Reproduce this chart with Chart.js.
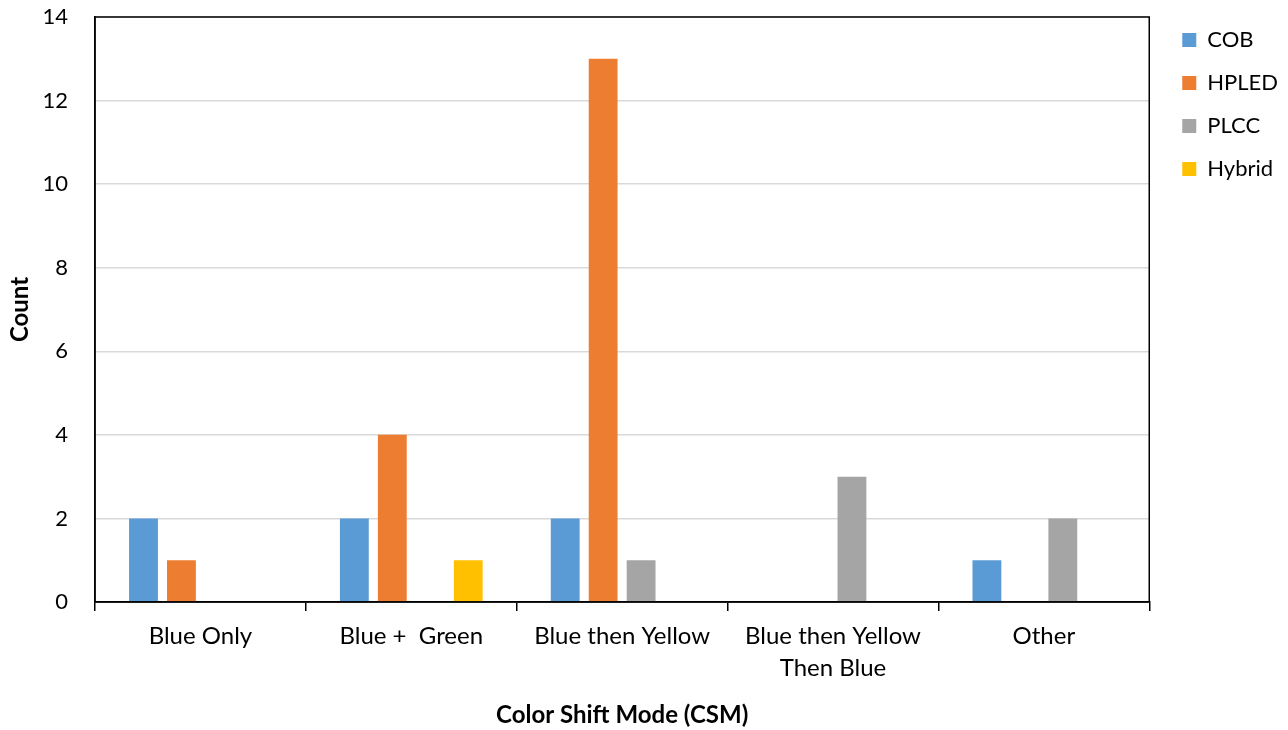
<!DOCTYPE html>
<html>
<head>
<meta charset="utf-8">
<script src="https://cdn.jsdelivr.net/npm/chart.js@4/dist/chart.umd.min.js"></script>
<style>
  body { margin: 0; background: #fff; }
  #wrap { width: 1288px; height: 730px; }
</style>
</head>
<body>
<div id="wrap"><canvas id="csmChart"></canvas></div>
<script>
const modes = ["Blue Only", "Blue +  Green", "Blue then Yellow", ["Blue then Yellow", "Then Blue"], "Other"];
const cob = [2, 2, 2, 0, 1];
const hpled = [1, 4, 13, 0, 0];
const plcc = [0, 0, 1, 3, 2];
const hybrid = [0, 1, 0, 0, 0];
const yTicks = [0, 2, 4, 6, 8, 10, 12, 14];

const font = "Lato, 'Open Sans', sans-serif";
Chart.defaults.font.family = font;
Chart.defaults.color = '#000';

// box round the plot area, like the Excel chart
const frame = {
    id: 'frame',
    afterDraw(chart) {
        const a = chart.chartArea;
        const c = chart.ctx;
        c.save();
        c.strokeStyle = '#000';
        c.lineWidth = 1.5;
        c.strokeRect(a.left, a.top, a.right - a.left, a.bottom - a.top);
        c.restore();
    }
};

const bar = (label, data, color) => ({
    label, data, backgroundColor: color, borderWidth: 0,
    categoryPercentage: 0.72, barPercentage: 0.76
});

new Chart(document.getElementById('csmChart').getContext('2d'), {
    type: 'bar',
    data: {
        labels: modes,
        datasets: [
            bar('COB', cob, '#5b9bd5'),
            bar('HPLED', hpled, '#ed7d31'),
            bar('PLCC', plcc, '#a5a5a5'),
            bar('Hybrid', hybrid, '#ffc000')
        ]
    },
    options: {
        responsive: true,
        maintainAspectRatio: false,
        animation: false,
        layout: { padding: { top: 8, right: 0, bottom: 0, left: 0 } },
        plugins: {
            legend: {
                position: 'right',
                align: 'start',
                labels: { boxWidth: 14, boxHeight: 14, padding: 21, font: { size: 22 } }
            },
            tooltip: { enabled: false }
        },
        scales: {
            x: {
                grid: { display: true, drawOnChartArea: false, drawTicks: true, tickLength: 9, color: '#000', lineWidth: 1.5 },
                border: { color: '#000', width: 1.5 },
                ticks: { font: { size: 24, lineHeight: 1.33 }, padding: 9, maxRotation: 0, autoSkip: false },
                title: { display: true, text: 'Color Shift Mode (CSM)', font: { size: 24, weight: 'bold' }, padding: { top: 0, bottom: 0 } },
                afterFit: axis => { axis.height = 128; axis.paddingLeft = 0; axis.paddingRight = 0; }
            },
            y: {
                min: 0,
                max: 14,
                afterBuildTicks: axis => { axis.ticks = yTicks.map(v => ({ value: v })); },
                grid: { color: '#d9d9d9', lineWidth: 1.5, drawTicks: false },
                border: { color: '#000', width: 1.5 },
                ticks: { font: { size: 22 }, padding: 27 },
                title: { display: true, text: 'Count', font: { size: 24, weight: 'bold' }, padding: { top: 6, bottom: 0 } },
                afterFit: axis => { axis.width = 95; axis.paddingTop = 17; axis.paddingBottom = 0; }
            },
            gap: {
                position: 'right',
                display: true,
                grid: { display: false },
                border: { display: false },
                ticks: { display: false },
                afterFit: axis => { axis.width = 12; axis.paddingTop = 0; axis.paddingBottom = 0; }
            }
        }
    },
    plugins: [frame]
});
</script>
</body>
</html>
